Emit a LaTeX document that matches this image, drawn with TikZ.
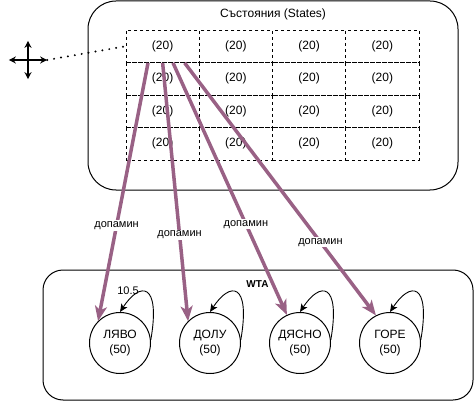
\documentclass[tikz,border=0pt]{standalone}
\usepackage{fontspec}
\setmainfont{Liberation Sans}
\usetikzlibrary{arrows.meta}
\definecolor{dopa}{RGB}{153,97,133}
\begin{document}
\begin{tikzpicture}[x=1pt,y=-1pt,
  container/.style={draw, line width=1pt, inner sep=0pt},
  cell/.style={draw, dash pattern=on 3pt off 3pt, line width=0.8pt, minimum width=73.25pt, minimum height=32.5pt, inner sep=0pt, font=\fontsize{12}{14}\selectfont},
  neuron/.style={circle, draw, line width=1pt, minimum size=61pt, inner sep=0pt, align=center, font=\fontsize{12}{15}\selectfont, fill=white},
  dopaline/.style={draw=dopa, line width=3.5pt, -{Stealth[length=15pt,width=12pt,inset=4pt]}},
  dlabel/.style={fill=white, inner sep=1pt, font=\fontsize{11}{13}\selectfont, text=black},
  selfloop/.style={line width=0.9pt, -{Stealth[length=8pt,width=7pt,inset=2pt]}},
  iconarrow/.style={line width=1.4pt, -{Stealth[length=7pt,width=7pt]}},
  dotline/.style={line width=2.2pt, line cap=round, dash pattern=on 0pt off 7pt},
  title/.style={inner sep=0pt, font=\fontsize{12}{14}\selectfont}
]
\useasboundingbox (0,0) rectangle (474,401);

% containers
\node[container, rounded corners=28pt, minimum width=370pt, minimum height=189pt] (states) at (273,95.5) {};
\node[title] (statestitle) at (273,14) {Състояния (States)};
\node[container, rounded corners=20pt, minimum width=430pt, minimum height=130pt] (wta) at (258,335) {};
\node[inner sep=0pt, font=\fontsize{10}{12}\selectfont\bfseries] (wtatitle) at (257.5,284) {WTA};

% grid of states
\foreach \r/\y in {1/46.25, 2/78.75, 3/111.25, 4/143.75}{
  \foreach \c/\x in {1/162.625, 2/235.875, 3/309.125, 4/382.375}{
    \node[cell] (c\r\c) at (\x,\y) {(20)};
  }
}

% move icon
\node[minimum size=38pt, inner sep=0pt] (mv) at (28,60) {};
\draw[iconarrow] (mv.center) -- (mv.east);
\draw[iconarrow] (mv.center) -- (mv.west);
\draw[iconarrow] (mv.center) -- (mv.north);
\draw[iconarrow] (mv.center) -- (mv.south);
\draw[dotline] (mv.east) -- (c11.west);

% neurons
\node[neuron] (L) at (120,343) {ЛЯВО\\(50)};
\node[neuron] (D) at (210,343) {ДОЛУ\\(50)};
\node[neuron] (R) at (300,343) {ДЯСНО\\(50)};
\node[neuron] (U) at (390,343) {ГОРЕ\\(50)};

% self loops
\foreach \n in {L,D,R,U}{
  \draw[selfloop] (\n.6) .. controls ([shift={(10,-58)}]\n.6) and ([shift={(20,-30.5)}]\n.north) .. (\n.north);
}
\node[inner sep=0pt, font=\fontsize{11}{13}\selectfont] (loopw) at ([shift={(8,-21.5)}]L.north) {10.5};

% dopamine connections
\coordinate (s1) at ([xshift=-14.6pt,yshift=0pt]c11.south);
\coordinate (s2) at (c11.south);
\coordinate (s3) at ([xshift=10.4pt]c11.south);
\coordinate (s4) at ([xshift=22pt]c11.south);
\draw[dopaline] (s1) -- (L.135) node[dlabel, pos=0.63] {допамин};
\draw[dopaline] (s2) -- (D.135) node[dlabel, pos=0.665] {допамин};
\draw[dopaline] (s3) -- (R.115) node[dlabel, pos=0.64] {допамин};
\draw[dopaline] (s4) -- (U.117) node[dlabel, pos=0.71] {допамин};
\end{tikzpicture}
\end{document}
